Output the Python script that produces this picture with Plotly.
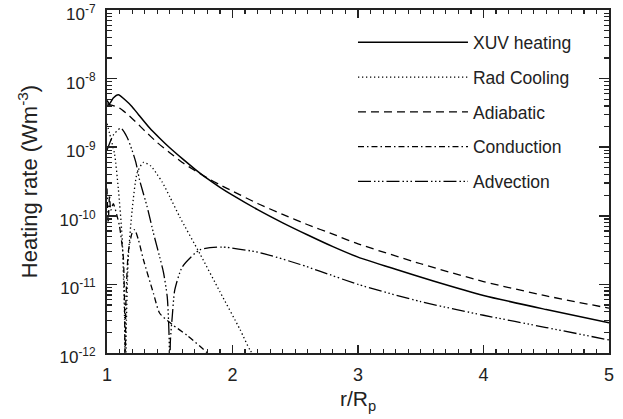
import plotly.graph_objects as go

# ---- data ----
xuv_x = [1.00, 1.02, 1.05, 1.09, 1.15, 1.20, 1.25, 1.34, 1.42, 1.50, 1.60, 1.70, 1.80, 1.90, 2.00, 2.20, 2.40, 2.60, 2.80, 3.00, 3.30, 3.60, 4.00, 4.50, 5.00]
xuv_y = [4.8e-9, 4.3e-9, 5.2e-9, 5.8e-9, 4.8e-9, 3.9e-9, 3.0e-9, 1.9e-9, 1.35e-9, 9.8e-10, 6.8e-10, 4.8e-10, 3.47e-10, 2.6e-10, 2.0e-10, 1.23e-10, 7.9e-11, 5.25e-11, 3.55e-11, 2.5e-11, 1.66e-11, 1.12e-11, 6.9e-12, 4.3e-12, 2.75e-12]

rad_x = [1.00, 1.02, 1.06, 1.09, 1.12, 1.14, 1.145, 1.155, 1.17, 1.20, 1.24, 1.29, 1.35, 1.40, 1.44, 1.50, 1.58, 1.74, 1.90, 2.06, 2.14, 2.20]
rad_y = [2.2e-9, 1.6e-9, 8e-10, 2.5e-10, 5e-11, 3e-12, 1e-13, 3e-12, 2.5e-11, 1.2e-10, 4.2e-10, 6.0e-10, 5.3e-10, 4.0e-10, 3.1e-10, 1.9e-10, 9.6e-11, 2.8e-11, 7.8e-12, 2.2e-12, 1.1e-12, 8e-13]

adi_x = [1.00, 1.10, 1.20, 1.30, 1.40, 1.50, 1.60, 1.70, 1.80, 1.90, 2.00, 2.20, 2.40, 2.60, 2.80, 3.00, 3.50, 4.00, 4.50, 5.00]
adi_y = [4.27e-9, 3.72e-9, 2.63e-9, 1.74e-9, 1.17e-9, 8.3e-10, 6.0e-10, 4.57e-10, 3.55e-10, 2.82e-10, 2.29e-10, 1.51e-10, 1.05e-10, 7.4e-11, 5.4e-11, 3.9e-11, 2.0e-11, 1.1e-11, 6.8e-12, 4.5e-12]

con_x = [1.00, 1.01, 1.02, 1.03, 1.05, 1.08, 1.10, 1.13, 1.14, 1.145, 1.15, 1.17, 1.20, 1.22, 1.25, 1.29, 1.37, 1.42, 1.52, 1.64, 1.80, 1.90]
con_y = [2.5e-10, 8e-11, 2e-10, 1.2e-10, 1.5e-10, 1e-10, 7e-11, 2.5e-11, 5e-12, 1e-13, 5e-12, 3e-11, 5.6e-11, 6.3e-11, 4.5e-11, 2.3e-11, 7.4e-12, 3.8e-12, 2.6e-12, 1.8e-12, 1.0e-12, 6e-13]

adv_x = [1.00, 1.05, 1.11, 1.16, 1.20, 1.23, 1.26, 1.32, 1.37, 1.42, 1.45, 1.48, 1.495, 1.50, 1.505, 1.52, 1.54, 1.60, 1.74, 1.92, 2.22, 2.54, 2.70, 3.00, 3.50, 4.00, 4.50, 5.00]
adv_y = [9e-10, 1.5e-9, 1.9e-9, 1.4e-9, 9e-10, 6e-10, 3.3e-10, 1.35e-10, 5.6e-11, 2.5e-11, 1.5e-11, 6.6e-12, 1.7e-12, 1e-13, 1.5e-12, 3.4e-12, 8.3e-12, 1.8e-11, 3.2e-11, 3.5e-11, 2.9e-11, 1.95e-11, 1.55e-11, 1.0e-11, 5.6e-12, 3.55e-12, 2.35e-12, 1.55e-12]

series_names = ["XUV heating", "Rad Cooling", "Adiabatic", "Conduction", "Advection"]
y_tickvals = [1e-12, 1e-11, 1e-10, 1e-9, 1e-8, 1e-7]
y_ticktext = ["10<sup>-12</sup>", "10<sup>-11</sup>", "10<sup>-10</sup>", "10<sup>-9</sup>", "10<sup>-8</sup>", "10<sup>-7</sup>"]
x_tickvals = [1, 2, 3, 4, 5]

# ---- styling ----
styles = [
    dict(width=1.5, dash="solid"),
    dict(width=1.3, dash="1.3px,2.7px"),
    dict(width=1.3, dash="8px,5px"),
    dict(width=1.3, dash="6px,3px,1.5px,3px"),
    dict(width=1.3, dash="13px,3px,1.5px,2.5px,1.5px,2.5px,1.5px,3px"),
]
data = [(xuv_x, xuv_y), (rad_x, rad_y), (adi_x, adi_y), (con_x, con_y), (adv_x, adv_y)]

fig = go.Figure()
for (xs, ys), name, st in zip(data, series_names, styles):
    fig.add_trace(go.Scatter(
        x=xs, y=ys, mode="lines", name=name, legendgroup=name, hoverinfo="skip",
        line=dict(color="black", width=st["width"], dash=st["dash"], shape="spline", smoothing=0.6),
    ))

font_family = "Liberation Sans, Arial, sans-serif"
ink = "#222"
fig.update_layout(
    width=623, height=419,
    margin=dict(l=107, r=14, t=10, b=66),
    paper_bgcolor="white", plot_bgcolor="white",
    font=dict(family=font_family, color=ink, size=16),
    showlegend=True,
    legend=dict(
        x=0.49, y=0.958, xanchor="left", yanchor="top",
        bgcolor="rgba(0,0,0,0)", borderwidth=0,
        font=dict(size=17.5, family=font_family, color=ink),
        itemwidth=110, tracegroupgap=9, traceorder="grouped",
    ),
    xaxis=dict(
        range=[1, 5], tickvals=x_tickvals, ticks="inside", ticklen=8, tickwidth=1.5,
        tickcolor=ink, showline=True, linecolor=ink, linewidth=2, mirror="allticks",
        showgrid=False, zeroline=False, tickfont=dict(size=18), automargin=False,
        ticklabelstandoff=4, ticklabeloverflow="allow",
        minor=dict(dtick=0.1, ticks="inside", ticklen=4, tickwidth=1.2, tickcolor=ink, showgrid=False),
        title=dict(text="r/R<sub>p</sub>", font=dict(size=21), standoff=8),
    ),
    yaxis=dict(
        type="log", range=[-12, -7], tickvals=y_tickvals, ticktext=y_ticktext,
        ticks="inside", ticklen=10, tickwidth=1.5, tickcolor=ink,
        showline=True, linecolor=ink, linewidth=2, mirror="allticks",
        showgrid=False, zeroline=False, tickfont=dict(size=17), automargin=False,
        ticklabelstandoff=6, ticklabeloverflow="allow", ticklabelshift=4,
        minor=dict(dtick="D1", ticks="inside", ticklen=5, tickwidth=1.2, tickcolor=ink, showgrid=False),
        title=dict(text="Heating rate (Wm<sup>-3</sup>)", font=dict(size=22), standoff=16),
    ),
)

fig.write_html("out.html", config={"displayModeBar": False, "staticPlot": True},
               post_script="document.body.style.margin='0';")
